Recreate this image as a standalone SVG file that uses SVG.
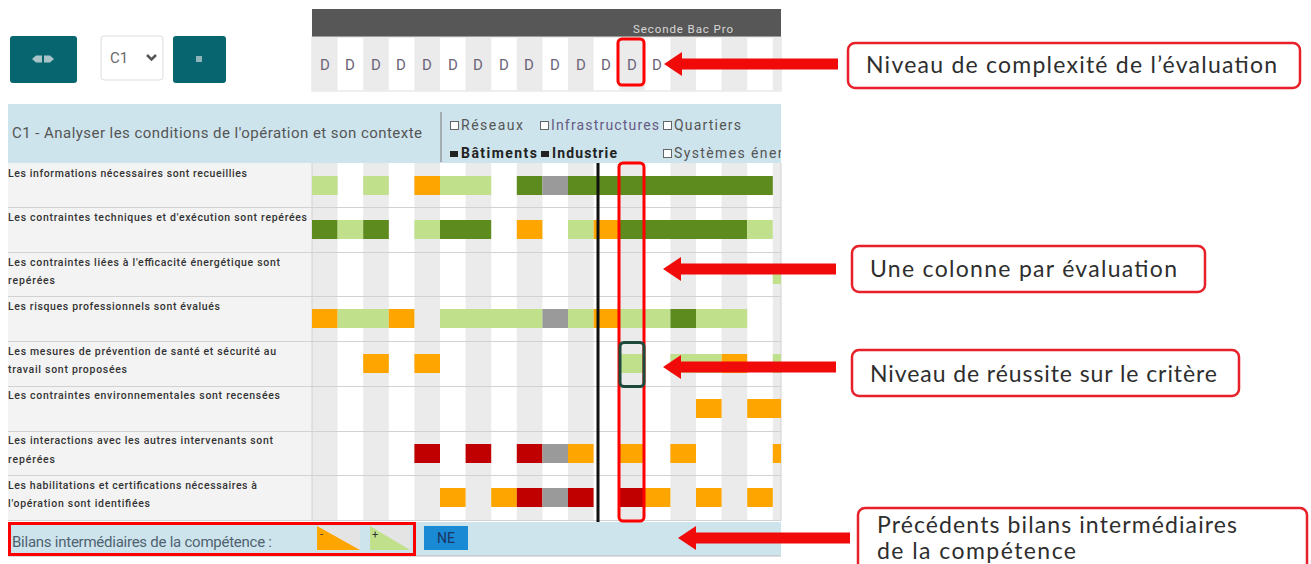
<svg xmlns="http://www.w3.org/2000/svg" width="1311" height="564" viewBox="0 0 1311 564">
<style>
.ui{font-family:Roboto,"Liberation Sans",sans-serif}
.lbl{font-family:Roboto,"Liberation Sans",sans-serif;font-size:10.5px;fill:#333;font-weight:500}
.dl{font-family:Roboto,"Liberation Sans",sans-serif;font-size:15px;fill:#6b6478;text-anchor:middle}
.ann{font-family:Lato,"Open Sans",sans-serif;font-size:23px;fill:#2e2e2e}
.annbox{fill:#fff;stroke:#e8202a;stroke-width:2.5}
.lg{fill:#c1e08c}.dg{fill:#5e8b1d}.or{fill:#ffa500}.gr{fill:#9a9a9a}.rd{fill:#c00000}
.gc{fill:#ebebeb}
.sep{stroke:#d2d2d2;stroke-width:1}
.cb{font-family:Roboto,"Liberation Sans",sans-serif;font-size:14px;fill:#555}
.cbb{font-family:Roboto,"Liberation Sans",sans-serif;font-size:14px;fill:#222;font-weight:bold}
.arrow{stroke:#f00a0a;stroke-width:11;fill:none;marker-end:url(#ah)}
</style>
<defs>
<marker id="ah" markerUnits="userSpaceOnUse" markerWidth="20" markerHeight="26" refX="1" refY="12" orient="auto">
<path d="M0,0 L18,12 L0,24 z" fill="#f00a0a"/>
</marker>
<clipPath id="gridclip"><rect x="312" y="0" width="469" height="564"/></clipPath>
<clipPath id="hdrclip"><rect x="0" y="100" width="781" height="70"/></clipPath>
</defs>
<rect width="1311" height="564" fill="#fff"/>

<g id="toolbar">
<rect x="10" y="36" width="67" height="47" rx="3" fill="#06656f"/>
<polygon points="32,59 36,55.5 42,55.5 42,62.5 36,62.5" fill="#a9c4c8"/>
<polygon points="54,59 50,55.5 44,55.5 44,62.5 50,62.5" fill="#a9c4c8"/>
<rect x="101" y="36" width="62" height="44" rx="3" fill="#fff" stroke="#ddd"/>
<text x="110" y="63" class="ui" font-size="15" fill="#6a6a6a">C1</text>
<polyline points="147,55 151.5,59.5 156,55" fill="none" stroke="#555" stroke-width="2.5"/>
<rect x="173" y="36" width="53" height="47" rx="3" fill="#06656f"/>
<rect x="196" y="56" width="6" height="6" fill="#8fb3b8"/>
</g>

<g id="header-levels">
<rect x="312" y="9" width="469" height="28" fill="#575757"/>
<text x="633" y="33" class="ui" font-size="11.5" fill="#d8d8d8" textLength="100">Seconde Bac Pro</text>
<rect x="312" y="37" width="469" height="54" fill="#fff" stroke="#ddd"/>
<g clip-path="url(#gridclip)">
<rect class="gc" x="312" y="37" width="25.6" height="54"/><rect class="gc" x="363.2" y="37" width="25.6" height="54"/><rect class="gc" x="414.4" y="37" width="25.6" height="54"/><rect class="gc" x="465.6" y="37" width="25.6" height="54"/><rect class="gc" x="516.8" y="37" width="25.6" height="54"/><rect class="gc" x="568" y="37" width="25.6" height="54"/><rect class="gc" x="619.2" y="37" width="25.6" height="54"/><rect class="gc" x="670.4" y="37" width="25.6" height="54"/><rect class="gc" x="721.6" y="37" width="25.6" height="54"/><rect class="gc" x="772.8" y="37" width="25.6" height="54"/>
</g>
<text class="dl" x="325" y="70">D</text><text class="dl" x="350" y="70">D</text><text class="dl" x="376" y="70">D</text><text class="dl" x="401" y="70">D</text><text class="dl" x="427" y="70">D</text><text class="dl" x="453" y="70">D</text><text class="dl" x="478" y="70">D</text><text class="dl" x="504" y="70">D</text><text class="dl" x="529" y="70">D</text><text class="dl" x="555" y="70">D</text><text class="dl" x="581" y="70">D</text><text class="dl" x="606" y="70">D</text><text class="dl" x="632" y="70">D</text><text class="dl" x="657" y="70">D</text>
<rect x="618" y="39" width="26" height="46" rx="4" fill="none" stroke="#f00" stroke-width="3"/>
</g>

<g id="competence-header">
<rect x="8" y="104" width="773" height="59" fill="#cde4ed"/>
<text x="12" y="138" class="ui" font-size="15" fill="#555" textLength="410">C1 - Analyser les conditions de l'opération et son contexte</text>
<line x1="441" y1="112" x2="441" y2="162" stroke="#888" stroke-width="1.2"/>
<g clip-path="url(#hdrclip)">
<rect x="450.5" y="121.5" width="8" height="8" fill="#fff" stroke="#666"/><text x="461" y="130" class="cb" textLength="62">Réseaux</text>
<rect x="540.5" y="121.5" width="8" height="8" fill="#fff" stroke="#666"/><text x="551" y="130" class="cb" style="fill:#665a82" textLength="108">Infrastructures</text>
<rect x="663.5" y="121.5" width="8" height="8" fill="#fff" stroke="#666"/><text x="674" y="130" class="cb" textLength="67">Quartiers</text>
<rect x="450" y="151" width="8" height="6" fill="#222"/><text x="461" y="158" class="cbb" textLength="76">Bâtiments</text>
<rect x="541" y="151" width="8" height="6" fill="#222"/><text x="552" y="158" class="cbb" textLength="65">Industrie</text>
<rect x="663.5" y="149.5" width="8" height="8" fill="#fff" stroke="#666"/><text x="674" y="158" class="cb" textLength="173">Systèmes énergétiques</text>
</g>
</g>

<g id="criteria-grid">
<rect x="8" y="163" width="304" height="357" fill="#f3f3f3"/>
<rect x="312" y="163" width="469" height="357" fill="#fff"/>
<g clip-path="url(#gridclip)">
<rect class="gc" x="312" y="163" width="25.6" height="357"/><rect class="gc" x="363.2" y="163" width="25.6" height="357"/><rect class="gc" x="414.4" y="163" width="25.6" height="357"/><rect class="gc" x="465.6" y="163" width="25.6" height="357"/><rect class="gc" x="516.8" y="163" width="25.6" height="357"/><rect class="gc" x="568" y="163" width="25.6" height="357"/><rect class="gc" x="619.2" y="163" width="25.6" height="357"/><rect class="gc" x="670.4" y="163" width="25.6" height="357"/><rect class="gc" x="721.6" y="163" width="25.6" height="357"/><rect class="gc" x="772.8" y="163" width="25.6" height="357"/>
</g>
<g class="sep">
<line x1="8" y1="207.5" x2="781" y2="207.5"/><line x1="8" y1="252.5" x2="781" y2="252.5"/><line x1="8" y1="296.5" x2="781" y2="296.5"/><line x1="8" y1="341.5" x2="781" y2="341.5"/><line x1="8" y1="386.5" x2="781" y2="386.5"/><line x1="8" y1="431.5" x2="781" y2="431.5"/><line x1="8" y1="475.5" x2="781" y2="475.5"/><line x1="8" y1="520.5" x2="781" y2="520.5"/>
<line x1="312" y1="163" x2="312" y2="521"/><line x1="781" y1="163" x2="781" y2="521"/>
</g>
<text class="lbl" x="8" y="177" textLength="239">Les informations nécessaires sont recueillies</text>
<text class="lbl" x="8" y="221" textLength="299">Les contraintes techniques et d'exécution sont repérées</text>
<text class="lbl" x="8" y="266" textLength="272">Les contraintes liées à l'efficacité énergétique sont</text>
<text class="lbl" x="8" y="284" textLength="47">repérées</text>
<text class="lbl" x="8" y="310" textLength="212">Les risques professionnels sont évalués</text>
<text class="lbl" x="8" y="355" textLength="268">Les mesures de prévention de santé et sécurité au</text>
<text class="lbl" x="8" y="373" textLength="119">travail sont proposées</text>
<text class="lbl" x="8" y="399" textLength="272">Les contraintes environnementales sont recensées</text>
<text class="lbl" x="8" y="444" textLength="265">Les interactions avec les autres intervenants sont</text>
<text class="lbl" x="8" y="463" textLength="47">repérées</text>
<text class="lbl" x="8" y="489" textLength="249">Les habilitations et certifications nécessaires à</text>
<text class="lbl" x="8" y="507" textLength="142">l'opération sont identifiées</text>
<g clip-path="url(#gridclip)">
<rect class="lg" x="312" y="176" width="25.6" height="19"/><rect class="lg" x="363.2" y="176" width="25.6" height="19"/><rect class="or" x="414.4" y="176" width="25.6" height="19"/><rect class="lg" x="440" y="176" width="51.2" height="19"/><rect class="dg" x="516.8" y="176" width="25.6" height="19"/><rect class="gr" x="542.4" y="176" width="25.6" height="19"/><rect class="dg" x="568" y="176" width="204.8" height="19"/>
<rect class="dg" x="312" y="220" width="25.6" height="19"/><rect class="lg" x="337.6" y="220" width="25.6" height="19"/><rect class="dg" x="363.2" y="220" width="25.6" height="19"/><rect class="lg" x="414.4" y="220" width="25.6" height="19"/><rect class="dg" x="440" y="220" width="51.2" height="19"/><rect class="or" x="516.8" y="220" width="25.6" height="19"/><rect class="lg" x="568" y="220" width="25.6" height="19"/><rect class="or" x="593.6" y="220" width="25.6" height="19"/><rect class="dg" x="619.2" y="220" width="128" height="19"/><rect class="lg" x="747.2" y="220" width="25.6" height="19"/>
<rect class="lg" x="772.8" y="265" width="25.6" height="19"/>
<rect class="or" x="312" y="309" width="25.6" height="19"/><rect class="lg" x="337.6" y="309" width="51.2" height="19"/><rect class="or" x="388.8" y="309" width="25.6" height="19"/><rect class="lg" x="440" y="309" width="102.4" height="19"/><rect class="gr" x="542.4" y="309" width="25.6" height="19"/><rect class="lg" x="568" y="309" width="25.6" height="19"/><rect class="or" x="593.6" y="309" width="25.6" height="19"/><rect class="lg" x="619.2" y="309" width="51.2" height="19"/><rect class="dg" x="670.4" y="309" width="25.6" height="19"/><rect class="lg" x="696" y="309" width="51.2" height="19"/>
<rect class="or" x="363.2" y="354" width="25.6" height="19"/><rect class="or" x="414.4" y="354" width="25.6" height="19"/><rect class="lg" x="619.2" y="354" width="25.6" height="19"/><rect class="lg" x="670.4" y="354" width="51.2" height="19"/><rect class="or" x="721.6" y="354" width="25.6" height="19"/><rect class="lg" x="772.8" y="354" width="25.6" height="19"/>
<rect class="or" x="696" y="399" width="25.6" height="19"/><rect class="or" x="747.2" y="399" width="51.2" height="19"/>
<rect class="rd" x="414.4" y="444" width="25.6" height="19"/><rect class="rd" x="465.6" y="444" width="25.6" height="19"/><rect class="rd" x="516.8" y="444" width="25.6" height="19"/><rect class="gr" x="542.4" y="444" width="25.6" height="19"/><rect class="or" x="568" y="444" width="25.6" height="19"/><rect class="or" x="619.2" y="444" width="25.6" height="19"/><rect class="or" x="670.4" y="444" width="25.6" height="19"/><rect class="or" x="772.8" y="444" width="25.6" height="19"/>
<rect class="or" x="440" y="488" width="25.6" height="19"/><rect class="or" x="491.2" y="488" width="25.6" height="19"/><rect class="rd" x="516.8" y="488" width="25.6" height="19"/><rect class="gr" x="542.4" y="488" width="25.6" height="19"/><rect class="rd" x="568" y="488" width="25.6" height="19"/><rect class="rd" x="619.2" y="488" width="25.6" height="19"/><rect class="or" x="644.8" y="488" width="25.6" height="19"/><rect class="or" x="696" y="488" width="25.6" height="19"/><rect class="or" x="747.2" y="488" width="25.6" height="19"/>
</g>
<line x1="598" y1="163" x2="598" y2="522" stroke="#111" stroke-width="3"/>
</g>

<g id="bilans-row">
<rect x="8" y="522" width="773" height="34" fill="#cde4ed"/>
<line x1="8" y1="556" x2="781" y2="556" stroke="#bbb"/>
<text x="12" y="547" class="ui" font-size="15" fill="#4f6270" textLength="260">Bilans intermédiaires de la compétence :</text>
<rect x="317" y="526" width="43" height="24" fill="#e4e4e4"/>
<polygon points="317,526 317,550 360,550" fill="#ffa500"/>
<text x="320" y="538" class="ui" font-size="11" fill="#333">-</text>
<rect x="370" y="526" width="40" height="24" fill="#e4e4e4"/>
<polygon points="370,526 370,550 410,550" fill="#c1e08c"/>
<text x="372" y="538" class="ui" font-size="11" fill="#333">+</text>
<rect x="424" y="526" width="44" height="24" fill="#1a8ad4"/>
<text x="446" y="543" class="ui" font-size="14" fill="#1a3560" text-anchor="middle">NE</text>
<rect x="9.5" y="523.5" width="405" height="31" fill="none" stroke="#f00" stroke-width="3"/>
</g>

<g id="highlights">
<rect x="619" y="163" width="25" height="358" rx="4" fill="none" stroke="#f00" stroke-width="3"/>
<rect x="620" y="342.5" width="24" height="44" rx="4" fill="none" stroke="#1d4a3a" stroke-width="3"/>
</g>

<g id="connectors">
<path class="arrow" d="M838,64 H681"/>
<path class="arrow" d="M836,269 H680"/>
<path class="arrow" d="M836,367 H680"/>
<path class="arrow" d="M850,538 H695"/>
</g>

<g id="note-complexite">
<rect class="annbox" x="848" y="43" width="452" height="45" rx="7"/>
<text class="ann" x="866" y="73" textLength="411">Niveau de complexité de l’évaluation</text>
</g>
<g id="note-colonne">
<rect class="annbox" x="852" y="246" width="353" height="46" rx="7"/>
<text class="ann" x="870" y="277" textLength="307">Une colonne par évaluation</text>
</g>
<g id="note-reussite">
<rect class="annbox" x="852" y="350" width="387" height="46" rx="7"/>
<text class="ann" x="870" y="382" textLength="347">Niveau de réussite sur le critère</text>
</g>
<g id="note-bilans">
<rect class="annbox" x="858" y="508" width="449" height="70" rx="7"/>
<text class="ann" x="877" y="533" textLength="360">Précédents bilans intermédiaires</text>
<text class="ann" x="877" y="559" textLength="199">de la compétence</text>
</g>
</svg>
